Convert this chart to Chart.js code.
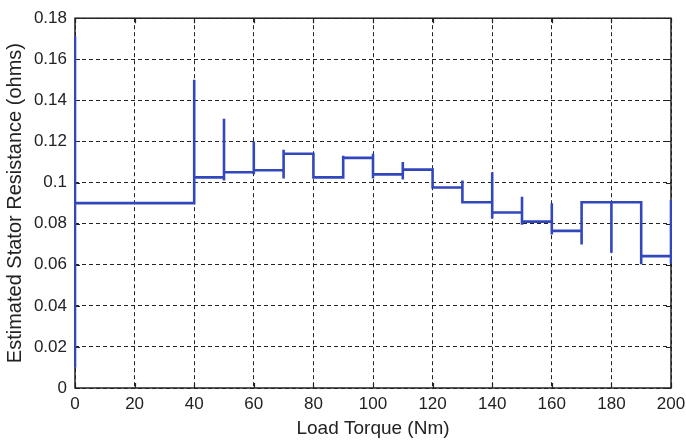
<!DOCTYPE html>
<html lang="en">
<head>
    <meta charset="UTF-8">
    <title>Estimated Stator Resistance</title>
    <script src="https://cdn.jsdelivr.net/npm/chart.js@4.4.1/dist/chart.umd.min.js"></script>
    <style>
        html, body {
            margin: 0;
            padding: 0;
            background-color: #fff;
        }
        canvas { display: block; }
    </style>
</head>
<body>
    <canvas id="chart" width="686" height="443"></canvas>

    <script>
        // load torque (Nm) - repeated values give the vertical jumps/spikes of the step trace
        const torque = [
            0, 0, 0, 40, 40, 40,
            50, 50, 50, 50,
            60, 60, 60, 60,
            70, 70, 70, 70,
            80, 80,
            90, 90, 90,
            100, 100, 100, 100,
            110, 110, 110, 110,
            120, 120,
            130, 130, 130,
            140, 140, 140, 140,
            150, 150, 150, 150,
            160, 160, 160, 160,
            170, 170, 170,
            180, 180, 180,
            190, 190, 190,
            200, 200, 200
        ];
        // estimated stator resistance (ohms)
        const resistance = [
            0.010, 0.171, 0.090, 0.090, 0.150, 0.1025,
            0.1025, 0.131, 0.101, 0.105,
            0.105, 0.120, 0.104, 0.106,
            0.106, 0.102, 0.116, 0.114,
            0.114, 0.1025,
            0.1025, 0.113, 0.112,
            0.112, 0.114, 0.102, 0.104,
            0.104, 0.110, 0.1015, 0.1063,
            0.1063, 0.0976,
            0.0976, 0.101, 0.0904,
            0.0904, 0.105, 0.0824, 0.0854,
            0.0854, 0.0931, 0.0795, 0.081,
            0.081, 0.0899, 0.0747, 0.0765,
            0.0765, 0.0698, 0.0904,
            0.0904, 0.0658, 0.0904,
            0.0904, 0.0602, 0.0642,
            0.0642, 0.0605, 0.0915
        ];

        const xTicks = [0, 20, 40, 60, 80, 100, 120, 140, 160, 180, 200];
        const xTickLabels = ['0', '20', '40', '60', '80', '100', '120', '140', '160', '180', '200'];
        const yTicks = [0, 0.02, 0.04, 0.06, 0.08, 0.1, 0.12, 0.14, 0.16, 0.18];
        const yTickLabels = ['0', '0.02', '0.04', '0.06', '0.08', '0.1', '0.12', '0.14', '0.16', '0.18'];

        const FONT = "'Liberation Sans', Arial, Helvetica, sans-serif";
        const TEXT = '#222';

        // MATLAB-style box around the axes with small inward tick marks
        const boxPlugin = {
            id: 'box',
            beforeDatasetsDraw(chart) {
                const { ctx, chartArea: a, scales } = chart;
                ctx.save();
                ctx.setLineDash([]);
                ctx.strokeStyle = '#222';
                ctx.lineWidth = 1.2;
                ctx.beginPath();
                scales.x.ticks.forEach(t => {
                    const px = Math.round(scales.x.getPixelForValue(t.value)) + 0.5;
                    ctx.moveTo(px, a.bottom); ctx.lineTo(px, a.bottom - 5);
                    ctx.moveTo(px, a.top); ctx.lineTo(px, a.top + 5);
                });
                scales.y.ticks.forEach(t => {
                    const py = Math.round(scales.y.getPixelForValue(t.value)) + 0.5;
                    ctx.moveTo(a.left, py); ctx.lineTo(a.left + 5, py);
                    ctx.moveTo(a.right, py); ctx.lineTo(a.right - 5, py);
                });
                ctx.stroke();
                ctx.lineWidth = 1.5;
                ctx.strokeRect(a.left, a.top, a.right - a.left, a.bottom - a.top);
                ctx.restore();
            }
        };

        new Chart(document.getElementById('chart'), {
            type: 'line',
            data: {
                datasets: [{
                    data: torque.map((t, i) => ({ x: t, y: resistance[i] })),
                    borderColor: '#3347bd',
                    borderWidth: 2.6,
                    borderJoinStyle: 'miter',
                    pointRadius: 0,
                    tension: 0,
                    fill: false,
                    clip: 1
                }]
            },
            options: {
                responsive: false,
                animation: false,
                layout: { padding: { top: 13, right: 15, left: 0, bottom: 0 } },
                plugins: {
                    legend: { display: false },
                    tooltip: { enabled: false }
                },
                scales: {
                    x: {
                        type: 'linear',
                        min: 0,
                        max: 200,
                        afterBuildTicks: s => { s.ticks = xTicks.map(v => ({ value: v })); },
                        afterFit: s => {
                            s.height = 55;
                            s.paddingLeft = 0;
                            s.paddingRight = 0;
                        },
                        ticks: {
                            callback: (v, i) => xTickLabels[i],
                            autoSkip: false,
                            maxRotation: 0,
                            padding: 6,
                            color: TEXT,
                            font: { family: FONT, size: 17 }
                        },
                        grid: { color: '#222', lineWidth: 1, drawTicks: false },
                        border: { display: false, dash: [4, 3] },
                        title: {
                            display: true,
                            text: 'Load Torque (Nm)',
                            color: TEXT,
                            font: { family: FONT, size: 19 },
                            padding: { top: 0, bottom: 3 }
                        }
                    },
                    y: {
                        type: 'linear',
                        min: 0,
                        max: 0.18,
                        afterBuildTicks: s => { s.ticks = yTicks.map(v => ({ value: v })); },
                        afterFit: s => { s.width = 75; },
                        ticks: {
                            callback: (v, i) => yTickLabels[i],
                            autoSkip: false,
                            padding: 8,
                            color: TEXT,
                            font: { family: FONT, size: 17 }
                        },
                        grid: { color: '#222', lineWidth: 1, drawTicks: false },
                        border: { display: false, dash: [4, 3] },
                        title: {
                            display: true,
                            text: 'Estimated Stator Resistance (ohms)',
                            color: TEXT,
                            font: { family: FONT, size: 20 },
                            padding: { top: 3, bottom: 0 }
                        }
                    }
                }
            },
            plugins: [boxPlugin]
        });
    </script>
</body>
</html>
